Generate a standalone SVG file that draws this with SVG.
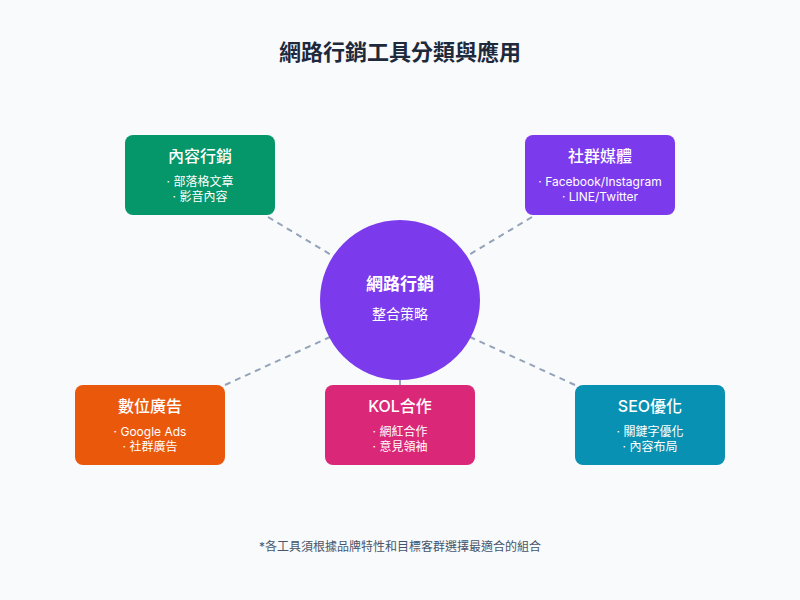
<svg xmlns="http://www.w3.org/2000/svg" width="800" height="600" viewBox="0 0 800 600">
<style>
text{font-family:"Inter","Noto Sans CJK TC",sans-serif;fill:#fff;text-anchor:middle}
.t{font-size:16px;font-weight:500}
.s{font-size:12px}
.c{stroke:#94a3b8;stroke-width:2;stroke-dasharray:6 5;fill:none}
</style>
<rect width="800" height="600" fill="#f8fafc"/>
<text x="400" y="60" style="font-size:22px;font-weight:700;fill:#1e293b">網路行銷工具分類與應用</text>
<g id="connectors">
<line class="c" x1="268" y1="217" x2="333" y2="256"/>
<line class="c" x1="532" y1="217" x2="467" y2="256"/>
<line class="c" x1="225" y1="385" x2="330" y2="337"/>
<line class="c" x1="575" y1="385" x2="470" y2="337"/>
<line x1="400" y1="378" x2="400" y2="385" stroke="#94a3b8" stroke-width="2"/>
</g>
<g id="center"><circle cx="400" cy="300" r="80" fill="#7c3aed"/>
<text x="400" y="290" style="font-size:17px;font-weight:700">網路行銷</text>
<text x="400" y="319" style="font-size:14px">整合策略</text></g>
<g id="content"><rect x="125" y="135" width="150" height="80" rx="8" fill="#059669"/>
<text class="t" x="200" y="162">內容行銷</text><text class="s" x="200" y="186">· 部落格文章</text><text class="s" x="200" y="201">· 影音內容</text></g>
<g id="social"><rect x="525" y="135" width="150" height="80" rx="8" fill="#7c3aed"/>
<text class="t" x="600" y="162">社群媒體</text><text class="s" x="600" y="186">· Facebook/Instagram</text><text class="s" x="600" y="201">· LINE/Twitter</text></g>
<g id="ads"><rect x="75" y="385" width="150" height="80" rx="8" fill="#ea580c"/>
<text class="t" x="150" y="412">數位廣告</text><text class="s" x="150" y="436">· Google Ads</text><text class="s" x="150" y="451">· 社群廣告</text></g>
<g id="kol"><rect x="325" y="385" width="150" height="80" rx="8" fill="#db2777"/>
<text class="t" x="400" y="412">KOL合作</text><text class="s" x="400" y="436">· 網紅合作</text><text class="s" x="400" y="451">· 意見領袖</text></g>
<g id="seo"><rect x="575" y="385" width="150" height="80" rx="8" fill="#0891b2"/>
<text class="t" x="650" y="412">SEO優化</text><text class="s" x="650" y="436">· 關鍵字優化</text><text class="s" x="650" y="451">· 內容布局</text></g>
<text x="400" y="551" style="font-size:12px;fill:#475569">*各工具須根據品牌特性和目標客群選擇最適合的組合</text>
</svg>
